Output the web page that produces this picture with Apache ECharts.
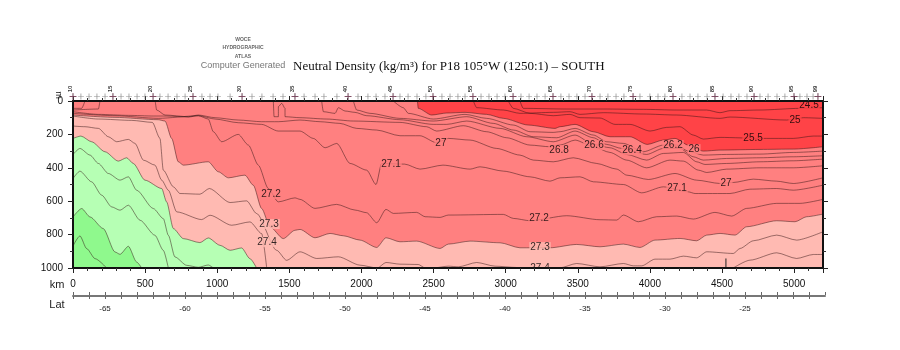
<!DOCTYPE html>
<html><head><meta charset="utf-8">
<style>html,body{margin:0;padding:0;background:#fff}#c{width:900px;height:350px}</style>
<script src="https://cdn.jsdelivr.net/npm/echarts@6/dist/echarts.min.js"></script>
</head><body><div id="c"></div>
<script>
// Contours: [distance km, depth m]
const c245=[[3099,0],[3122,44],[3423,48],[3538,48],[3677,48],[3954,50],[4185,54],[4393,54],[4486,70],[4555,58],[4763,54],[5040,44],[5200,40]];
const c25=[[2776,0],[2799,40],[2984,54],[3099,74],[3330,68],[3446,64],[3515,80],[3677,70],[3954,78],[4185,84],[4486,104],[4555,96],[4948,114],[5064,100],[5200,104]];
const c255=[[3018,0],[3053,44],[3169,74],[3330,88],[3446,80],[3515,100],[3654,102],[3758,140],[3862,140],[4001,180],[4116,158],[4208,154],[4301,204],[4370,228],[4486,218],[4786,224],[4994,224],[5133,210],[5200,210]];
const c26=[[0,0],[2387,0],[2394,44],[2487,84],[2591,72],[2718,68],[2868,80],[2984,104],[3157,144],[3342,164],[3377,154],[3481,140],[3608,184],[3723,214],[3862,214],[3982,260],[4093,234],[4174,224],[4266,264],[4370,300],[4486,294],[4763,290],[4994,288],[5200,274]];
const c262=[[2221,0],[2290,40],[2325,74],[2498,108],[2718,80],[2868,104],[3053,144],[3169,184],[3330,188],[3377,184],[3481,164],[3608,204],[3700,244],[3816,254],[3954,304],[4093,264],[4185,264],[4266,300],[4370,324],[4532,320],[4763,318],[4994,308],[5200,300]];
const c264=[[1944,0],[1967,54],[2059,74],[2267,104],[2498,120],[2730,94],[2914,134],[3053,174],[3192,214],[3354,220],[3481,180],[3608,220],[3700,260],[3804,284],[3977,320],[4093,284],[4208,284],[4301,334],[4370,354],[4532,344],[4763,340],[4994,334],[5200,328]];
const c266=[[1724,0],[1736,64],[1817,74],[1840,40],[1886,60],[1955,68],[2036,88],[2267,112],[2498,140],[2591,140],[2730,120],[2961,164],[3146,214],[3330,244],[3481,204],[3608,260],[3723,280],[3839,320],[3977,354],[4093,314],[4232,308],[4324,364],[4382,380],[4532,374],[4763,364],[4994,358],[5200,348]];
const c268=[[1389,0],[1394,94],[1424,94],[1424,34],[1447,14],[1470,44],[1470,94],[1574,100],[1759,108],[1944,120],[2267,128],[2452,154],[2521,180],[2706,148],[2868,184],[3007,220],[3169,264],[3307,274],[3377,264],[3481,234],[3608,274],[3723,308],[3839,354],[3977,400],[4139,354],[4232,360],[4336,414],[4394,428],[4532,408],[4763,400],[4994,400],[5200,388]];
const c27=[[570,0],[580,54],[638,84],[800,94],[869,84],[985,100],[1146,114],[1308,124],[1423,124],[1574,114],[1713,124],[1851,134],[1967,164],[2106,174],[2267,208],[2406,208],[2521,250],[2602,224],[2753,234],[2937,284],[3099,324],[3192,354],[3330,364],[3469,340],[3631,374],[3770,408],[3839,444],[3989,470],[4174,434],[4324,474],[4486,494],[4578,488],[4717,468],[4879,480],[4994,494],[5200,460]];
const c271=[[0,64],[176,80],[384,86],[560,90],[650,90],[800,96],[869,88],[985,108],[1146,130],[1308,140],[1423,180],[1574,180],[1666,224],[1748,280],[1829,254],[1921,374],[2036,414],[2101,500],[2140,374],[2300,378],[2406,408],[2565,384],[2753,408],[2822,394],[2984,420],[3169,454],[3307,480],[3377,460],[3515,454],[3608,484],[3816,500],[3943,550],[4093,514],[4266,544],[4313,554],[4555,554],[4694,528],[4879,524],[4994,534],[5200,504]];
const c272=[[0,74],[291,88],[591,104],[869,88],[938,108],[973,184],[1031,244],[1146,200],[1216,264],[1285,384],[1354,524],[1423,604],[1539,580],[1574,589],[1678,643],[1828,619],[1955,653],[2036,669],[2106,729],[2170,649],[2221,673],[2383,667],[2441,693],[2545,697],[2602,683],[2984,679],[3053,703],[3169,717],[3423,687],[3654,711],[3770,713],[3816,683],[3920,723],[4047,693],[4186,689],[4301,707],[4451,667],[4567,689],[4671,643],[4879,613],[5041,613],[5200,589]];
const c273=[[0,84],[291,98],[591,112],[638,120],[684,224],[730,364],[765,384],[938,364],[1008,424],[1077,460],[1192,444],[1250,504],[1308,644],[1366,754],[1458,824],[1539,774],[1574,769],[1678,819],[1782,793],[1874,807],[1990,833],[2106,877],[2170,819],[2267,843],[2383,839],[2545,883],[2602,857],[2753,839],[2961,849],[3099,879],[3307,879],[3492,859],[3654,873],[3816,857],[3931,877],[4035,833],[4209,823],[4324,837],[4394,803],[4486,793],[4590,803],[4671,753],[4879,717],[5006,723],[5087,693],[5200,677]];
const c274=[[0,90],[176,108],[407,116],[550,128],[603,224],[626,414],[696,514],[742,554],[880,558],[945,524],[1089,608],[1204,598],[1273,674],[1412,894],[1481,954],[1574,903],[1690,943],[1840,933],[1990,983],[2110,1000],[2170,967],[2267,977],[2394,979],[2440,999],[2498,1000],[2602,989],[2672,993],[2799,967],[2926,989],[3076,997],[3168,1000],[3284,1000],[3377,999],[3492,973],[3654,993],[3816,973],[3885,987],[3943,987],[4035,947],[4139,947],[4232,929],[4324,939],[4394,903],[4578,913],[4625,883],[4717,837],[4879,803],[5017,833],[5200,783]];
const c275=[[0,150],[83,154],[176,164],[245,214],[303,244],[384,230],[430,254],[488,354],[568,384],[615,474],[661,534],[719,664],[892,710],[950,684],[1100,744],[1227,724],[1308,794],[1343,1000]];
const c275East=[[4578,1000],[4694,953],[4879,909],[5017,943],[5133,919],[5200,919]];
const c276=[[0,224],[55,210],[129,244],[222,304],[314,360],[372,340],[418,374],[499,474],[615,524],[649,604],[696,764],[765,824],[880,848],[938,820],[1019,864],[1089,894],[1169,880],[1227,944],[1273,1000]];
const c277=[[0,320],[48,284],[118,324],[176,374],[245,434],[326,474],[384,454],[441,534],[557,644],[626,704],[661,804],[707,934],[788,984],[869,996],[938,982],[973,1000]];
const c278=[[0,464],[48,420],[129,484],[199,564],[268,634],[326,654],[384,624],[465,714],[568,804],[626,894],[661,1000]];
const c279=[[0,694],[60,644],[118,694],[210,764],[291,904],[326,918],[384,870],[441,964],[476,1000]];
const c280=[[0,868],[48,808],[95,884],[153,944],[233,1000]];
const pocketA=[[0,44],[60,44],[83,0]];
const pocketB=[[0,54],[176,48],[187,0]];
const bottomSpike=[[4527,943],[4527,1000]];

const labelTexts=['24.5','25','25.5','26','26.2','26.4','26.6','26.8','27','27','27.1','27.1','27.2','27.2','27.3','27.3','27.4','27.4'];
const labelKm=[5103,5006,4715,4306,4160,3876,3612,3370,2551,4528,2205,4188,1373,3231,1359,3238,1345,3238];
const labelDepth=[24,114,222,288,264,294,264,294,252,491,377,521,557,701,737,875,845,1000];

const stationKm=[0,55,111,166,222,277,333,388,444,499,555,603,659,721,777,832,894,950,1005,1089,1172,1241,1310,1387,1456,1539,1602,1678,1740,1830,1907,1976,2045,2101,2163,2219,2267,2323,2385,2447,2496,2558,2614,2669,2718,2773,2829,2884,2940,2995,3051,3106,3162,3217,3273,3328,3383,3439,3494,3550,3598,3654,3709,3765,3820,3883,3931,4000,4056,4104,4160,4222,4278,4333,4396,4451,4507,4562,4617,4673,4722,4763,4819,4881,4936,4999,5040,5089,5131,5165];
const stationLabels=['10','15','20','25','30','35','40','45','50','55','60','65','70','75','80','85','90','95','99'];

const RED='#ff4347',MID='#ff8080',PINK='#ffbab2',GREEN='#b6ffb4',DGREEN='#8ff98d';
const LINE='rgba(50,20,20,0.62)', FONT='"Liberation Sans",Arial,sans-serif';
const contour=(name,data,fill)=>({name,type:'line',data,xAxisIndex:0,yAxisIndex:0,showSymbol:false,symbol:'none',
  smooth:0.25,smoothMonotone:'x',silent:true,lineStyle:{color:LINE,width:0.8},
  areaStyle:fill?{color:fill,opacity:1,origin:'end'}:undefined,z:fill?2:3});
const bandOf=t=>{const v=+t;return v<26?RED:v>=27.3?PINK:MID;};
const plus='path://M4.4 0H5.6V4.4H10V5.6H5.6V10H4.4V5.6H0V4.4H4.4Z';
const labelled=stationKm.filter((k,i)=>i%5===0||i===stationKm.length-1);

const axisBase={type:'value',splitLine:{show:false},z:10};
const kmAxis=(pos,labels)=>({...axisBase,gridIndex:0,position:pos,min:0,max:5200,interval:500,
  axisLine:{show:true,onZero:false,lineStyle:{color:'#111',width:2}},
  axisTick:{show:true,length:5,lineStyle:{color:'#222',width:1}},
  minorTick:{show:true,splitNumber:5,length:3,lineStyle:{color:'#333',width:1}},
  axisLabel:labels?{show:true,margin:11,fontSize:10,color:'#111',fontFamily:FONT,showMaxLabel:false,
    formatter:v=>String(v)}:{show:false}});
const depthAxis=(pos,labels)=>({...axisBase,gridIndex:0,position:pos,min:0,max:1000,interval:200,inverse:true,
  axisLine:{show:true,onZero:false,lineStyle:{color:'#111',width:2}},
  axisTick:{show:true,length:5,lineStyle:{color:'#222',width:1}},
  minorTick:{show:true,splitNumber:2,length:3,lineStyle:{color:'#333',width:1}},
  axisLabel:labels?{show:true,margin:10,fontSize:10,color:'#111',fontFamily:FONT,padding:[3,0,0,0],
    formatter:v=>String(v)}:{show:false}});
const latAxis=(pos,labels)=>({...axisBase,gridIndex:2,position:pos,min:-67,max:-20,interval:1,
  axisLine:{show:labels,onZero:false,lineStyle:{color:'#777',width:2}},
  axisTick:{show:true,length:3,lineStyle:{color:'#666',width:1}},
  axisLabel:labels?{show:true,margin:9,fontSize:8,color:'#222',fontFamily:FONT,showMaxLabel:false,
    formatter:v=>v%5===0?String(v):''}:{show:false}});

const txt=(text,x,y,size,color,extra)=>({type:'text',x,y,z:20,style:{text,fill:color,font:`${extra||''} ${size}px ${FONT}`,textAlign:'center',textVerticalAlign:'middle'}});

const option={
  animation:false,backgroundColor:'#fff',
  title:{text:'Neutral Density (kg/m³) for P18 105°W (1250:1) – SOUTH',left:293,top:60,padding:0,
    textStyle:{fontFamily:'"Liberation Serif",serif',fontSize:13,fontWeight:'normal',color:'#111'}},
  graphic:{elements:[
    txt('WOCE',243,40,5,'#666','bold'),txt('HYDROGRAPHIC',243,48,5,'#666','bold'),txt('ATLAS',243,57,5,'#666','bold'),
    txt('Computer Generated',243,66,9,'#777'),
    txt('km',57,285,11,'#222'),txt('Lat',57,305,11,'#222'),
    {type:'text',x:58,y:95,z:20,rotation:-Math.PI/2,style:{text:'m',fill:'#111',font:`9px ${FONT}`,textAlign:'center',textVerticalAlign:'middle'}},
    {type:'rect',shape:{x:520,y:269,width:40,height:9},style:{fill:'#fff'},z:6}
  ]},
  grid:[
    {left:73,top:101,width:750,height:167,show:true,backgroundColor:RED,borderWidth:0,containLabel:false},
    {left:73,top:92,width:750,height:9,show:false},
    {left:73,top:295,width:752,height:1,show:false}
  ],
  xAxis:[kmAxis('bottom',true),kmAxis('top',false),
    {...axisBase,gridIndex:1,min:0,max:5200,show:false},
    latAxis('bottom',true),latAxis('top',false)],
  yAxis:[depthAxis('left',true),depthAxis('right',false),
    {...axisBase,gridIndex:1,min:0,max:1,show:false},
    {...axisBase,gridIndex:2,min:0,max:1,show:false}],
  series:[
    contour('26',c26,MID),contour('27.3',c273,PINK),contour('27.6',c276,GREEN),contour('27.9',c279,DGREEN),
    contour('24.5',c245),contour('25',c25),contour('25.5',c255),
    contour('26.2',c262),contour('26.4',c264),contour('26.6',c266),contour('26.8',c268),
    contour('27',c27),contour('27.1',c271),contour('27.2',c272),contour('27.4',c274),
    contour('27.5',c275),contour('27.5 east',c275East),contour('27.7',c277),contour('27.8',c278),contour('28',c280),
    contour('a',pocketA),contour('b',pocketB),
    {...contour('spike',bottomSpike),smooth:false,lineStyle:{color:'#222',width:1}},
    {name:'labels',type:'scatter',xAxisIndex:0,yAxisIndex:0,symbolSize:0,silent:true,clip:false,z:5,
      data:labelTexts.map((t,i)=>({value:[labelKm[i],labelDepth[i]],name:t,
        label:{show:true,position:'inside',formatter:t,color:'#000',fontSize:10,fontFamily:FONT,
          backgroundColor:bandOf(t),padding:[0,1]}}))},
    {name:'stations',type:'scatter',xAxisIndex:2,yAxisIndex:2,silent:true,clip:false,symbol:plus,symbolSize:6,
      itemStyle:{color:'#6f6f6f'},data:stationKm.map(k=>[k,0.5]),z:11},
    {name:'stationMarks',type:'scatter',xAxisIndex:2,yAxisIndex:2,silent:true,clip:false,symbol:plus,symbolSize:7,
      itemStyle:{color:'#6e2f4c'},z:12,
      data:labelled.map((k,i)=>({value:[k,0.5],
        label:{show:true,position:'top',distance:4,formatter:stationLabels[i],rotate:90,fontSize:6,fontWeight:'bold',color:'#000',fontFamily:FONT}}))}
  ]
};
echarts.init(document.getElementById('c'),null,{renderer:'canvas'}).setOption(option);
</script></body></html>
